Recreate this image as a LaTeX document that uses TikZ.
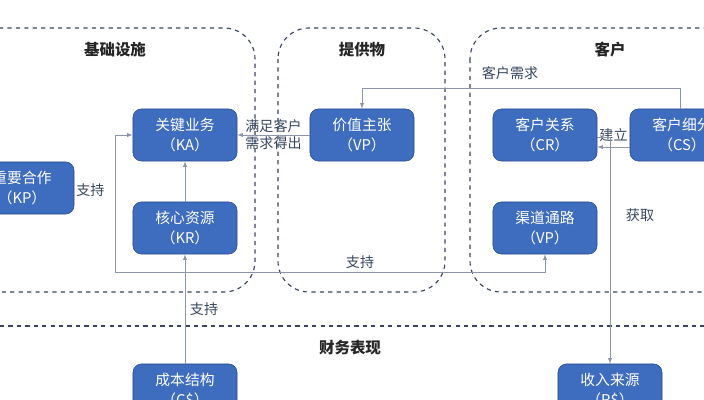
\documentclass[tikz,border=0pt]{standalone}
\usepackage{fontspec}
\setmainfont{Noto Sans CJK SC}
\usetikzlibrary{positioning}
\definecolor{boxblue}{RGB}{62,108,190}
\definecolor{boxedge}{RGB}{40,75,140}
\definecolor{zone}{RGB}{55,70,95}
\definecolor{wire}{RGB}{140,150,170}
\tikzset{>=latex}
\tikzset{
  block/.style = {draw=boxedge,fill=boxblue,text=white,rounded corners=6pt,
    minimum width=2.6cm,minimum height=1.3cm,align=center,font=\fontsize{10.5}{14}\selectfont},
  zonebox/.style = {draw=zone,dashed,thick,rounded corners=22pt},
  title/.style = {font=\fontsize{11}{13}\selectfont\bfseries,text=black!85},
  wire/.style = {draw=wire,->},
  tag/.style = {font=\fontsize{10}{12}\selectfont,text=zone}
}

\begin{document}
\begin{tikzpicture}[x=0.025cm,y=-0.025cm]
  \useasboundingbox (0,0) rectangle (704,400);
  % zones
  \draw[zonebox] (-40,28) rectangle (255,292);
  \draw[zonebox] (278,28) rectangle (445,292);
  \draw[zonebox] (470,28) rectangle (740,292);
  \draw[zone,dashed,thick] (0,326) -- (704,326);
  \node[title] (tinfra) at (115,50) {基础设施};
  \node[title] (toffer) at (362,50) {提供物};
  \node[title] (tcust) at (610,50) {客户};
  \node[title] (tfin) at (350,348) {财务表现};
  % blocks
  \node[block] (ka) at (185,135) {关键业务\\（KA）};
  \node[block] (kr) at (185,228) {核心资源\\（KR）};
  \node[block] (kp) at (22,188) {重要合作\\（KP）};
  \node[block] (vp) at (362,135) {价值主张\\（VP）};
  \node[block] (cr) at (545,135) {客户关系\\（CR）};
  \node[block] (ch) at (545,228) {渠道通路\\（VP）};
  \node[block] (cs) at (682,135) {客户细分\\（CS）};
  \node[block] (cost) at (185,390) {成本结构\\（C\$）};
  \node[block] (rev) at (610,390) {收入来源\\（R\$）};
  % connectors
  \coordinate (low) at (115,272);
  \draw[wire] (kr) -- (ka);
  \draw[wire] (cost) -- (kr) node[tag,pos=0.5,right] {支持};
  \draw[wire] (vp) -- (ka) node[tag,midway,align=center] {满足客户\\需求得出};
  \draw[wire] (low) |- (ka.west) node[tag,pos=0.3,left=4pt] {支持};
  \draw[wire] (low) -| (ch.south);
  \node[tag] (sup) at (360,262) {支持};
  \draw[wire] (cs.north -| 680,0) |- (362,88) -- (vp.north);
  \node[tag] (need) at (510,73) {客户需求};
  \draw[wire] ([yshift=-0.3cm]cs.west) -- ([yshift=-0.3cm]cr.east) node[tag,midway,above] {建立};
  \draw[wire] ([yshift=-0.05cm]cr.east) -| (rev.north);
  \node[tag] (gain) at (640,215) {获取};
\end{tikzpicture}
\end{document}
